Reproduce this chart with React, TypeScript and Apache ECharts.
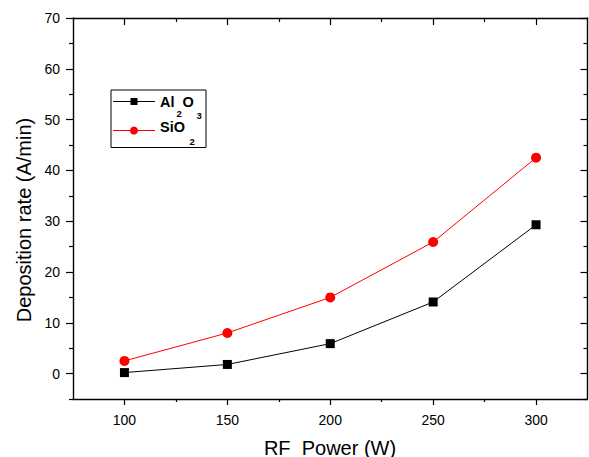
import React, { useEffect, useRef } from "react";
import * as echarts from "echarts";

const rfPower = [100, 150, 200, 250, 300];
const al2o3 = [0.2, 1.8, 5.9, 14.1, 29.3];
const sio2 = [2.5, 8.0, 15.0, 25.9, 42.5];
const xMajor = [100, 150, 200, 250, 300];
const xMinor = [125, 175, 225, 275];
const yMajor = [0, 10, 20, 30, 40, 50, 60, 70];
const yMinor = [-5, 5, 15, 25, 35, 45, 55, 65];
const xTitle = "RF  Power (W)";
const yTitle = "Deposition rate (A/min)";

const FONT = "Liberation Sans, Arial, sans-serif";

export default function App() {
  const ref = useRef<HTMLDivElement>(null);
  useEffect(() => {
    if (!ref.current) return;
    const chart = echarts.init(ref.current, null, { renderer: "svg" });
    const axisLine = { show: true, onZero: false, lineStyle: { color: "#000", width: 1.4 } };
    const noLine = { show: false, onZero: false };
    const tickStyle = { color: "#000", width: 1.2 };
    const baseX = { type: "value", min: 75, max: 325, splitLine: { show: false } };
    const baseY = { type: "value", min: -5, max: 70, splitLine: { show: false } };
    const noLabel = { show: false };
    const xAxes: any[] = [
      {
        ...baseX,
        position: "bottom",
        axisLine,
        axisTick: { show: true, inside: false, length: 6, customValues: xMajor, lineStyle: tickStyle },
        axisLabel: { show: true, customValues: xMajor, margin: 14, fontSize: 14, color: "#000", fontFamily: FONT },
      },
      {
        ...baseX,
        position: "bottom",
        axisLine: noLine,
        axisTick: { show: true, inside: false, length: 3, customValues: xMinor, lineStyle: tickStyle },
        axisLabel: noLabel,
      },
      {
        ...baseX,
        position: "top",
        axisLine,
        axisTick: { show: true, inside: true, length: 7, customValues: xMajor, lineStyle: tickStyle },
        axisLabel: noLabel,
      },
      {
        ...baseX,
        position: "top",
        axisLine: noLine,
        axisTick: { show: true, inside: true, length: 4, customValues: xMinor, lineStyle: tickStyle },
        axisLabel: noLabel,
      },
    ];
    const yAxes: any[] = [
      {
        ...baseY,
        position: "left",
        axisLine,
        axisTick: { show: true, inside: false, length: 7, customValues: yMajor, lineStyle: tickStyle },
        axisLabel: { show: true, customValues: yMajor, margin: 13, fontSize: 14, color: "#000", fontFamily: FONT },
      },
      {
        ...baseY,
        position: "left",
        axisLine: noLine,
        axisTick: { show: true, inside: false, length: 4, customValues: yMinor, lineStyle: tickStyle },
        axisLabel: noLabel,
      },
      {
        ...baseY,
        position: "right",
        axisLine,
        axisTick: { show: true, inside: true, length: 7, customValues: yMajor, lineStyle: tickStyle },
        axisLabel: noLabel,
      },
      {
        ...baseY,
        position: "right",
        axisLine: noLine,
        axisTick: { show: true, inside: true, length: 4, customValues: yMinor, lineStyle: tickStyle },
        axisLabel: noLabel,
      },
    ];

    const subStyle = { fontSize: 9.5, fontWeight: "bold", fill: "#000", fontFamily: FONT, verticalAlign: "middle" };
    const mainStyle = { fontSize: 14.5, fontWeight: "bold", fill: "#000", fontFamily: FONT, verticalAlign: "middle" };

    chart.setOption({
      animation: false,
      backgroundColor: "#fff",
      grid: { left: 73, right: 1.5, top: 18, bottom: 58, containLabel: false },
      xAxis: xAxes,
      yAxis: yAxes,
      series: [
        {
          name: "Al2O3",
          type: "line",
          xAxisIndex: 0,
          yAxisIndex: 0,
          data: rfPower.map((x, i) => [x, al2o3[i]]),
          symbol: "rect",
          symbolSize: 9,
          itemStyle: { color: "#000" },
          lineStyle: { color: "#000", width: 1 },
        },
        {
          name: "SiO2",
          type: "line",
          xAxisIndex: 0,
          yAxisIndex: 0,
          data: rfPower.map((x, i) => [x, sio2[i]]),
          symbol: "circle",
          symbolSize: 10,
          itemStyle: { color: "#ff0000" },
          lineStyle: { color: "#ff0000", width: 1 },
        },
      ],
      graphic: [
        {
          type: "text",
          x: 330,
          y: 448,
          style: { text: xTitle, fontSize: 20, fill: "#000", fontFamily: FONT, align: "center", verticalAlign: "middle" },
        },
        {
          type: "text",
          x: 24,
          y: 220,
          rotation: Math.PI / 2,
          style: { text: yTitle, fontSize: 20, fill: "#000", fontFamily: FONT, align: "center", verticalAlign: "middle" },
        },
        {
          type: "rect",
          shape: { x: 111, y: 90, width: 95, height: 57.5 },
          style: { fill: "#fff", stroke: "#000", lineWidth: 1 },
          z: 10,
        },
        {
          type: "line",
          shape: { x1: 113, y1: 101.5, x2: 155, y2: 101.5 },
          style: { stroke: "#000", lineWidth: 1 },
          z: 11,
        },
        {
          type: "rect",
          shape: { x: 130.5, y: 98, width: 7, height: 7 },
          style: { fill: "#000" },
          z: 11,
        },
        {
          type: "line",
          shape: { x1: 113, y1: 130.5, x2: 155, y2: 130.5 },
          style: { stroke: "#ff0000", lineWidth: 1 },
          z: 11,
        },
        {
          type: "circle",
          shape: { cx: 134, cy: 130.5, r: 4 },
          style: { fill: "#ff0000" },
          z: 11,
        },
        { type: "text", x: 160, y: 102, style: { text: "Al", ...mainStyle }, z: 11 },
        { type: "text", x: 176.5, y: 113.5, style: { text: "2", ...subStyle }, z: 11 },
        { type: "text", x: 182.5, y: 102, style: { text: "O", ...mainStyle }, z: 11 },
        { type: "text", x: 196.5, y: 115, style: { text: "3", ...subStyle }, z: 11 },
        { type: "text", x: 160, y: 127, style: { text: "SiO", ...mainStyle }, z: 11 },
        { type: "text", x: 189.5, y: 141, style: { text: "2", ...subStyle }, z: 11 },
      ],
    });
    return () => chart.dispose();
  }, []);
  return <div ref={ref} style={{ position: "fixed", left: 0, top: 0, width: 589, height: 457 }} />;
}
